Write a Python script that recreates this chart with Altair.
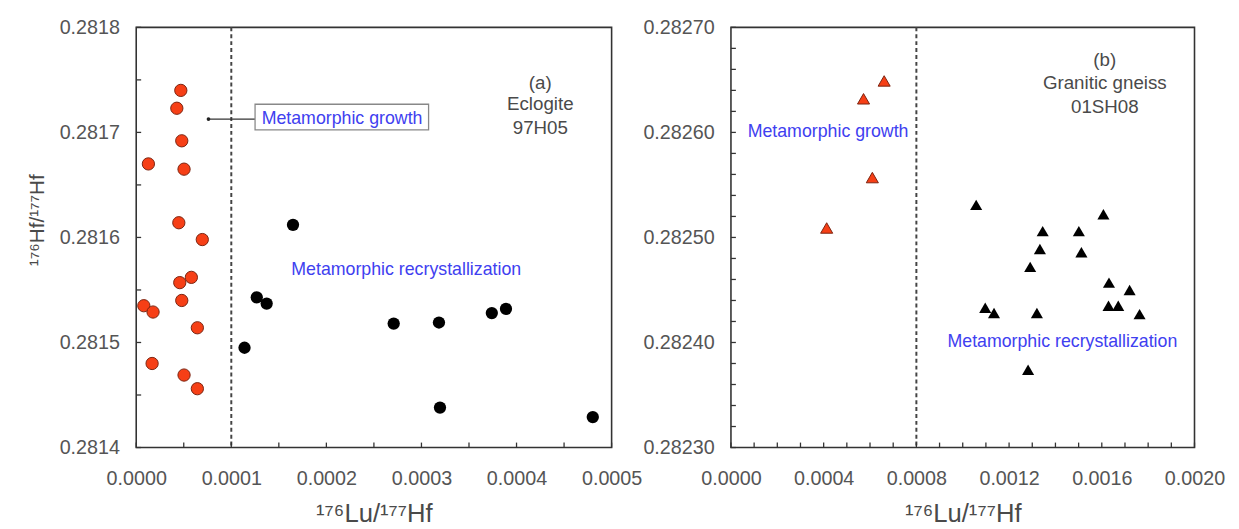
import altair as alt
import pandas as pd

# ---------------- data ----------------
left_red_x = [0.0000469, 0.0000427, 0.0000479, 0.0000128, 0.0000503, 0.0000448, 0.0000695, 0.0000580,
              0.0000458, 0.0000479, 0.0000080, 0.0000177, 0.0000643, 0.0000167, 0.0000503, 0.0000643]
left_red_y = [0.281740, 0.281723, 0.281692, 0.281670, 0.281665, 0.281614, 0.281598, 0.281562,
              0.281557, 0.281540, 0.281535, 0.281529, 0.281514, 0.281480, 0.281469, 0.281456]
left_black_x = [0.0001649, 0.0001268, 0.0001372, 0.0001139, 0.0002708, 0.0003184, 0.0003740, 0.0003889,
                0.0003195, 0.0004802]
left_black_y = [0.281612, 0.281543, 0.281537, 0.281495, 0.281518, 0.281519, 0.281528, 0.281532,
                0.281438, 0.281429]

right_red_x = [0.000661, 0.000572, 0.000610, 0.000413]
right_red_y = [0.282649, 0.282632, 0.282557, 0.282509]
right_black_x = [0.001058, 0.001607, 0.001345, 0.001501, 0.001333, 0.001512, 0.001291, 0.001631,
                 0.001720, 0.001629, 0.001671, 0.001763, 0.001097, 0.001135, 0.001320, 0.001282]
right_black_y = [0.282531, 0.282522, 0.282506, 0.282506, 0.282489, 0.282486, 0.282472, 0.282457,
                 0.282450, 0.282435, 0.282435, 0.282427, 0.282433, 0.282428, 0.282428, 0.282374]

# axis labels / ticks
left_x_labels = [0.0, 0.0001, 0.0002, 0.0003, 0.0004, 0.0005]
left_y_labels = [0.2814, 0.2815, 0.2816, 0.2817, 0.2818]
left_x_ticks = [0.0, 0.00005, 0.0001, 0.00015, 0.0002, 0.00025, 0.0003, 0.00035, 0.0004, 0.00045, 0.0005]
left_y_ticks = [0.2814, 0.28145, 0.2815, 0.28155, 0.2816, 0.28165, 0.2817, 0.28175, 0.2818]
right_x_labels = [0.0, 0.0004, 0.0008, 0.0012, 0.0016, 0.0020]
right_y_labels = [0.2823, 0.2824, 0.2825, 0.2826, 0.2827]
right_x_ticks = [0.0, 0.0001, 0.0002, 0.0003, 0.0004, 0.0005, 0.0006, 0.0007, 0.0008, 0.0009, 0.0010,
                 0.0011, 0.0012, 0.0013, 0.0014, 0.0015, 0.0016, 0.0017, 0.0018, 0.0019, 0.0020]
right_y_ticks = [0.2823, 0.28232, 0.28234, 0.28236, 0.28238, 0.2824, 0.28242, 0.28244, 0.28246, 0.28248,
                 0.2825, 0.28252, 0.28254, 0.28256, 0.28258, 0.2826, 0.28262, 0.28264, 0.28266, 0.28268, 0.2827]

# boundary lines
left_boundary = [0.0001]
right_boundary = [0.0008]

# annotations
left_label_text = ["(a)", "Eclogite", "97H05"]
left_label_x = [0.000425, 0.000425, 0.000425]
left_label_y = [0.281747, 0.281727, 0.281704]
left_blue_text = ["Metamorphic growth", "Metamorphic recrystallization"]
left_blue_x = [0.0002165, 0.000284]
left_blue_y = [0.2817125, 0.281569]
left_box = dict(x=[0.000125], x2=[0.0003075], y=[0.2817268], y2=[0.2817025])
left_arrow = dict(x=[0.000076], x2=[0.000125], y=[0.2817127])

right_label_text = ["(b)", "Granitic gneiss", "01SH08"]
right_label_x = [0.001613, 0.001613, 0.001613]
right_label_y = [0.282669, 0.282647, 0.282624]
right_blue_text = ["Metamorphic growth", "Metamorphic recrystallization"]
right_blue_x = [0.000419, 0.00143]
right_blue_y = [0.2826, 0.2824]

FONT = "Liberation Sans"
RED = "#f63f16"
RED_EDGE = "#7a2410"
BLUE = "#4040f0"
GRAY_TXT = "#4a4a4a"
W_L, W_R, H = 482, 470, 426


def panel(w, xdom, ydom, xlabels, ylabels, xticks, yticks, xfmt, yfmt, ytitle,
          red_x, red_y, blk_x, blk_y, shape, size, boundary,
          lab_t, lab_x, lab_y, blue_t, blue_x, blue_y, box=None, arrow=None):
    xs = alt.Scale(domain=xdom, nice=False, zero=False)
    ys = alt.Scale(domain=ydom, nice=False, zero=False)
    xaxis = alt.Axis(values=xlabels, format=xfmt, ticks=False, domain=False, grid=False,
                     labelFontSize=20, labelColor="#555", labelPadding=22, labelFlush=False,
                     title="¹⁷⁶Lu/¹⁷⁷Hf", titleFontSize=26, titleFontWeight="normal",
                     titleColor=GRAY_TXT, titlePadding=12)
    yaxis_kw = dict(values=ylabels, format=yfmt, ticks=False, domain=False, grid=False,
                    labelFontSize=20, labelColor="#555", labelPadding=17, labelFlush=False)
    if ytitle:
        yaxis = alt.Axis(title=ytitle, titleFontSize=21, titleFontWeight="normal",
                         titleColor=GRAY_TXT, titlePadding=12, titleY=195, **yaxis_kw)
    else:
        yaxis = alt.Axis(title=None, **yaxis_kw)

    base_x = alt.X("x:Q", scale=xs, axis=xaxis)
    base_y = alt.Y("y:Q", scale=ys, axis=yaxis)

    layers = []
    # boundary dashed line
    layers.append(alt.Chart(pd.DataFrame({"x": boundary})).mark_rule(
        color="#444", strokeDash=[4, 3], strokeWidth=2).encode(x=base_x))
    # points
    red = pd.DataFrame({"x": red_x, "y": red_y})
    blk = pd.DataFrame({"x": blk_x, "y": blk_y})
    layers.append(alt.Chart(red).mark_point(shape=shape, filled=True, size=size, fill=RED,
                                            stroke=RED_EDGE, strokeWidth=1, opacity=1)
                  .encode(x="x:Q", y=base_y))
    layers.append(alt.Chart(blk).mark_point(shape=shape, filled=True, size=size, color="black",
                                            opacity=1)
                  .encode(x="x:Q", y="y:Q"))
    # inward ticks
    layers.append(alt.Chart(pd.DataFrame({"x": xticks})).mark_rule(color="#333", strokeWidth=1.3)
                  .encode(x="x:Q", y=alt.value(H), y2=alt.value(H - 5)))
    layers.append(alt.Chart(pd.DataFrame({"y": yticks})).mark_rule(color="#333", strokeWidth=1.3)
                  .encode(y="y:Q", x=alt.value(0), x2=alt.value(5)))
    # annotation box + arrow
    if arrow is not None:
        layers.append(alt.Chart(pd.DataFrame(arrow)).mark_rule(color="#333", strokeWidth=1.3)
                      .encode(x="x:Q", x2="x2:Q", y="y:Q"))
        layers.append(alt.Chart(pd.DataFrame(arrow)).mark_point(filled=True, size=14, color="#222",
                                                                opacity=1)
                      .encode(x="x:Q", y="y:Q"))
    if box is not None:
        layers.append(alt.Chart(pd.DataFrame(box)).mark_rect(fill="white", stroke="#888", strokeWidth=1.3)
                      .encode(x="x:Q", x2="x2:Q", y="y:Q", y2="y2:Q"))
    # texts
    layers.append(alt.Chart(pd.DataFrame({"x": lab_x, "y": lab_y, "t": lab_t})).mark_text(
        font=FONT, fontSize=19, color=GRAY_TXT, align="center", baseline="middle")
        .encode(x="x:Q", y="y:Q", text="t:N"))
    layers.append(alt.Chart(pd.DataFrame({"x": blue_x, "y": blue_y, "t": blue_t})).mark_text(
        font=FONT, fontSize=18, color=BLUE, align="center", baseline="middle")
        .encode(x="x:Q", y="y:Q", text="t:N"))

    return alt.layer(*layers).properties(width=w, height=H)


left = panel(W_L, [0, 0.0005], [0.2814, 0.2818], left_x_labels, left_y_labels, left_x_ticks, left_y_ticks,
             ".4f", ".4f", "¹⁷⁶Hf/¹⁷⁷Hf",
             left_red_x, left_red_y, left_black_x, left_black_y, "circle", 155, left_boundary,
             left_label_text, left_label_x, left_label_y, left_blue_text, left_blue_x, left_blue_y,
             box=left_box, arrow=left_arrow)

right = panel(W_R, [0, 0.002], [0.2823, 0.2827], right_x_labels, right_y_labels, right_x_ticks, right_y_ticks,
              ".4f", ".5f", None,
              right_red_x, right_red_y, right_black_x, right_black_y, "triangle-up", 150, right_boundary,
              right_label_text, right_label_x, right_label_y, right_blue_text, right_blue_x, right_blue_y)

chart = alt.hconcat(left, right, spacing=121, bounds="flush").properties(
    padding={"left": 18, "top": 5, "right": 5, "bottom": 0}
).configure(font=FONT).configure_view(stroke="#333", strokeWidth=1.6).configure_axis(
    labelFont=FONT, titleFont=FONT)

chart.save("out.html", embed_options={"renderer": "svg", "actions": False})
